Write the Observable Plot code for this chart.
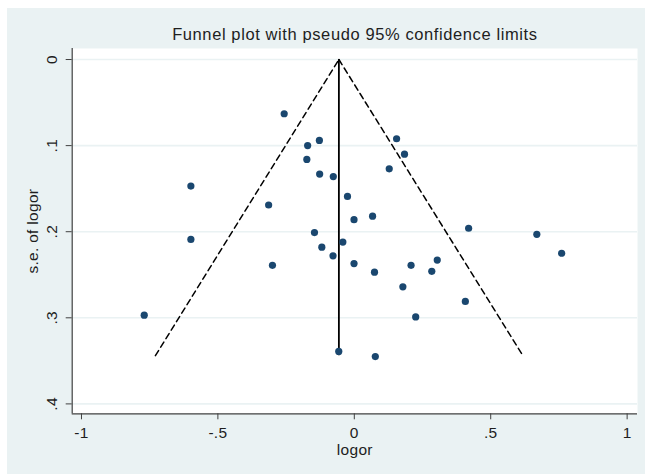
<!DOCTYPE html>
<html>
<head>
<meta charset="utf-8">
<script src="https://cdn.jsdelivr.net/npm/d3@7"></script>
<script src="https://cdn.jsdelivr.net/npm/@observablehq/plot@0.6"></script>
<style>
  html, body { margin: 0; padding: 0; background: #ffffff; }
  #bg { position: absolute; left: 7px; top: 8px; width: 638px; height: 466px; background: #eaf2f3; }
  #chart { position: absolute; left: 0; top: 0; }
  #chart svg text { letter-spacing: 0.3px; }
</style>
</head>
<body>
<div id="bg"></div>
<div id="chart"></div>
<script>
// Study estimates (log odds ratio) and their standard errors
const logor = [-0.257, -0.171, -0.128, -0.174, -0.127, -0.077, -0.599, -0.314, -0.025, -0.001,
               0.155, 0.184, 0.128, 0.067, 0.419, -0.599, -0.146, -0.119, -0.042, -0.078,
               -0.300, -0.001, -0.770, -0.057, 0.669, 0.760, 0.074, 0.208, 0.304, 0.284,
               0.178, 0.407, 0.225, 0.077];
const se = [0.063, 0.100, 0.094, 0.116, 0.133, 0.136, 0.147, 0.169, 0.159, 0.186,
            0.092, 0.110, 0.127, 0.182, 0.196, 0.209, 0.201, 0.218, 0.212, 0.228,
            0.239, 0.237, 0.297, 0.339, 0.203, 0.225, 0.247, 0.239, 0.233, 0.246,
            0.264, 0.281, 0.299, 0.345];

// Pooled estimate and pseudo 95% confidence limits (funnel outline)
const pooled = -0.0565;
const seMax = 0.344;
const funnelLeftX = [-0.729, -0.0565];
const funnelLeftSE = [0.344, 0];
const funnelRightX = [-0.0565, 0.618];
const funnelRightSE = [0, 0.344];

// Axis ticks
const xTicks = [-1, -0.5, 0, 0.5, 1];
const yTicks = [0, 0.1, 0.2, 0.3, 0.4];
const xLabel = "logor";
const yLabel = "s.e. of logor";
const title = "Funnel plot with pseudo 95% confidence limits";

const stataFmt = v => v === 0 ? "0" : String(v).replace(/^(-?)0\./, "$1.");

const points = logor.map((x, i) => ({x, y: se[i]}));
const leftLine = funnelLeftX.map((x, i) => ({x, y: funnelLeftSE[i]}));
const rightLine = funnelRightX.map((x, i) => ({x, y: funnelRightSE[i]}));

const xDomain = [-1.034, 1.038];
const yDomain = [-0.0128, 0.4115];
const axisColor = "#404040";
const textColor = "#1e1e1e";

const chart = Plot.plot({
  width: 650,
  height: 476,
  marginLeft: 71.7,
  marginRight: 13,
  marginTop: 48,
  marginBottom: 62.7,
  style: {background: "transparent", fontFamily: "'Liberation Sans', Arial, sans-serif", fontSize: "15px", color: textColor},
  x: {domain: xDomain},
  y: {domain: yDomain, reverse: true},
  marks: [
    Plot.frame({fill: "white", stroke: "none"}),
    Plot.ruleY(yTicks, {stroke: "#eaf2f3", strokeWidth: 1.6}),
    Plot.ruleX([xDomain[0]], {stroke: axisColor, strokeWidth: 1.2}),
    Plot.ruleY([yDomain[1]], {stroke: axisColor, strokeWidth: 1.2}),
    Plot.axisX({ticks: xTicks, tickFormat: stataFmt, tickSize: 6, tickPadding: 7, stroke: axisColor, fontSize: 15.5, label: null}),
    Plot.axisY({ticks: yTicks, tickFormat: stataFmt, tickSize: 6, tickPadding: 9, tickRotate: -90, stroke: axisColor, fontSize: 15.5, label: null}),
    Plot.line(leftLine, {x: "x", y: "y", stroke: "black", strokeWidth: 1.5, strokeDasharray: "6,4"}),
    Plot.line(rightLine, {x: "x", y: "y", stroke: "black", strokeWidth: 1.5, strokeDasharray: "6,4"}),
    Plot.ruleX([pooled], {y1: 0, y2: seMax, stroke: "black", strokeWidth: 1.8}),
    Plot.dot(points, {x: "x", y: "y", r: 3.6, fill: "#1a476f", stroke: "none"}),
    Plot.text([title], {frameAnchor: "top", textAnchor: "middle", lineAnchor: "bottom", dy: -8.7, fontSize: 16.5, fill: textColor}),
    Plot.text([xLabel], {frameAnchor: "bottom", textAnchor: "middle", lineAnchor: "bottom", dy: 41, fontSize: 15.5, fill: textColor}),
    Plot.text([yLabel], {frameAnchor: "left", textAnchor: "middle", lineAnchor: "middle", dx: -39, rotate: -90, fontSize: 15.5, fill: textColor})
  ]
});
d3.select(chart).selectAll("text")
  .filter(function() { return this.textContent === title; })
  .style("letter-spacing", "0.6px");
document.getElementById("chart").appendChild(chart);
</script>
</body>
</html>
